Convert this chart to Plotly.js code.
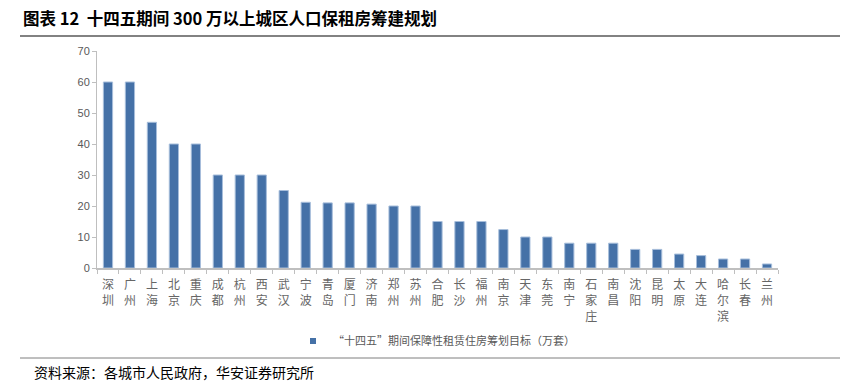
<!DOCTYPE html>
<html>
<head>
<meta charset="utf-8">
<script src="https://cdn.plot.ly/plotly-3.0.1.min.js"></script>
<style>html,body{margin:0;padding:0;background:#fff;}#chart{width:850px;height:387px;}</style>
</head>
<body>
<div id="chart"></div>
<script>
const cities = ["深圳","广州","上海","北京","重庆","成都","杭州","西安","武汉","宁波","青岛","厦门","济南","郑州","苏州","合肥","长沙","福州","南京","天津","东莞","南宁","石家庄","南昌","沈阳","昆明","太原","大连","哈尔滨","长春","兰州"];
const targets = [60,60,47,40,40,30,30,30,25,21.2,21,21,20.6,20,20,15,15,15,12.4,10,10,8,8,8,6,6,4.5,4,2.9,2.9,1.3];
const seriesName = "“十四五”期间保障性租赁住房筹划目标（万套）";
const titleText = "图表 12  十四五期间 300 万以上城区人口保租房筹建规划";
const sourceText = "资料来源：各城市人民政府，华安证券研究所";

const W = 850, H = 387;
const M = {l: 97, r: 72, t: 51, b: 119};
const pw = W - M.l - M.r, ph = H - M.t - M.b;
const px = x => (x - M.l) / pw;
const py = y => (H - M.b - y) / ph;

const tickText = cities.map(c => c.split("").join("<br>"));
const cjk = '"Noto Sans CJK SC", "Noto Sans", sans-serif';
const barColor = "#4571a7";

const trace = {
  type: "bar",
  x: cities,
  y: targets,
  name: seriesName,
  showlegend: false,
  marker: {color: barColor, line: {color: "#a7bedb", width: 1}},
  hoverinfo: "x+y"
};
// legend-only key (small square like the reference)
const legendKey = {
  type: "scatter", mode: "markers",
  x: [cities[0]], y: [null],
  name: seriesName,
  showlegend: true,
  marker: {symbol: "square", size: 6, color: barColor},
  hoverinfo: "skip"
};

const layout = {
  width: W, height: H,
  margin: M,
  paper_bgcolor: "#fff", plot_bgcolor: "#fff",
  bargap: 0.58,
  showlegend: true,
  legend: {
    x: px(293), xanchor: "left", y: py(341), yanchor: "middle",
    orientation: "h",
    font: {family: cjk, size: 11, color: "#595959"},
    itemwidth: 30
  },
  xaxis: {
    type: "category",
    range: [-0.5, cities.length - 0.5],
    tickmode: "array", tickvals: cities, ticktext: tickText,
    tickfont: {family: cjk, size: 12, color: "#666666"},
    showline: true, linecolor: "#bfbfbf", linewidth: 2,
    ticks: "outside", tickson: "boundaries", ticklen: 4, tickcolor: "#bfbfbf", tickwidth: 1,
    showgrid: false, zeroline: false, fixedrange: true,
    ticklabelstandoff: 5
  },
  yaxis: {
    range: [0, 70], dtick: 10, tick0: 0,
    tickfont: {family: '"Liberation Sans", Arial, sans-serif', size: 11, color: "#595959"},
    showline: true, linecolor: "#bfbfbf", linewidth: 1,
    ticks: "outside", ticklen: 4, tickcolor: "#bfbfbf",
    showgrid: false, zeroline: false, fixedrange: true
  },
  shapes: [
    {type: "line", xref: "paper", yref: "paper", x0: px(20), x1: px(840), y0: py(36), y1: py(36), line: {color: "#595959", width: 1.5}},
    {type: "line", xref: "paper", yref: "paper", x0: px(20), x1: px(840), y0: py(358), y1: py(358), line: {color: "#7f7f7f", width: 1}}
  ],
  annotations: [
    {text: "<b>" + titleText + "</b>", xref: "paper", yref: "paper", x: px(21), y: py(18), xanchor: "left", yanchor: "middle", showarrow: false, font: {family: cjk, size: 16.5, color: "#000"}},
    {text: sourceText, xref: "paper", yref: "paper", x: px(32), y: py(372), xanchor: "left", yanchor: "middle", showarrow: false, font: {family: cjk, size: 14, color: "#000"}}
  ]
};

Plotly.newPlot("chart", [trace, legendKey], layout, {displayModeBar: false, staticPlot: true});
</script>
</body>
</html>
